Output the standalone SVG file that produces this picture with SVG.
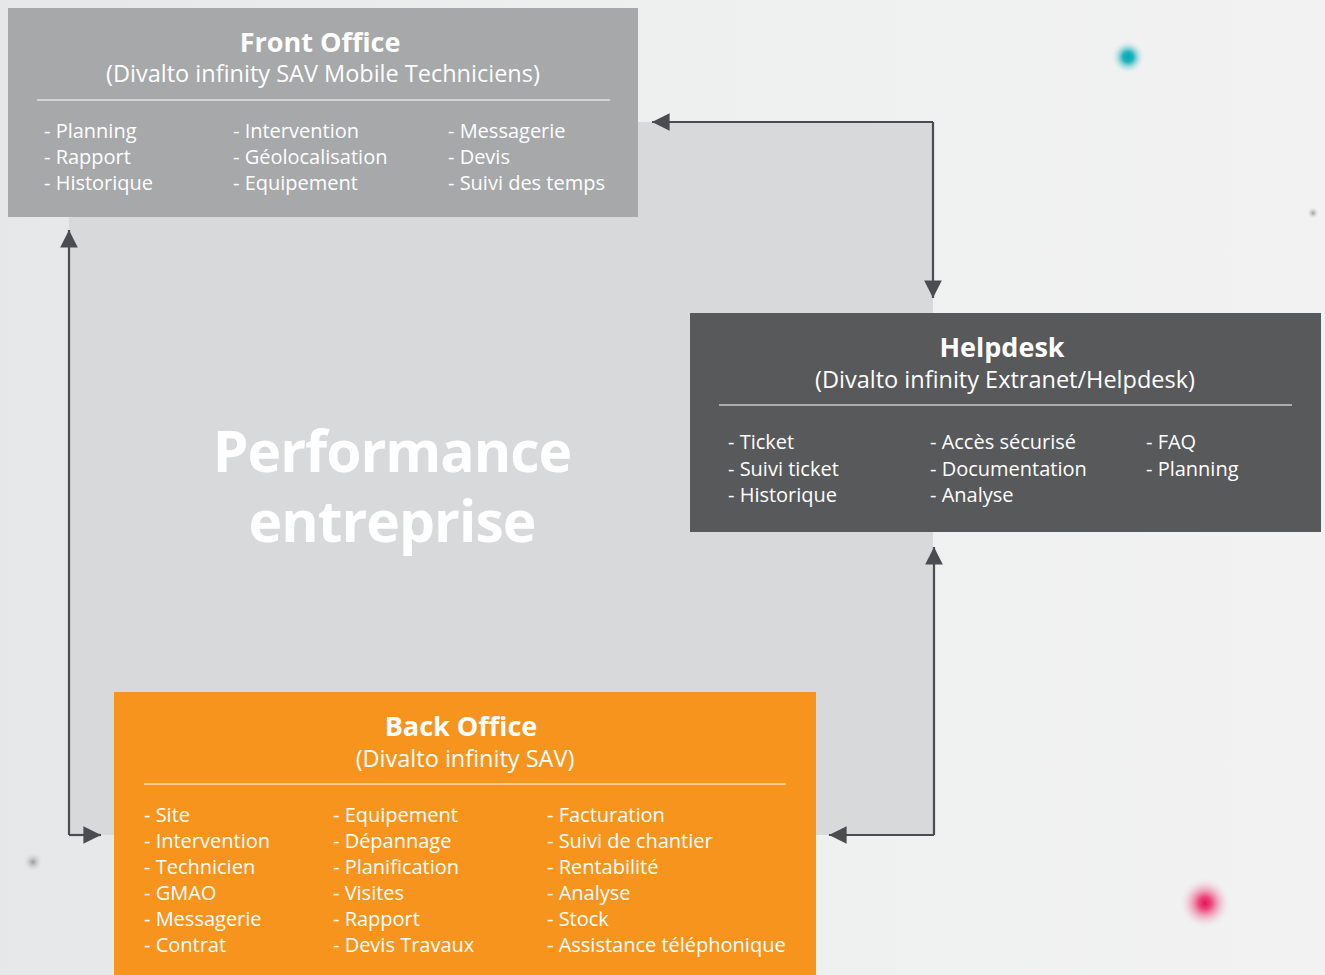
<svg xmlns="http://www.w3.org/2000/svg" width="1325" height="975" viewBox="0 0 1325 975">
<style>
.t{font-family:"Open Sans","Noto Sans","Liberation Sans",sans-serif;fill:#ffffff}
.title{font-size:27px;font-weight:700;text-anchor:middle}
.sub{font-size:23.5px;text-anchor:middle}
.item{font-size:20px}
.big{font-size:57px;font-weight:700;text-anchor:middle;letter-spacing:-1px}
.div{stroke:#ffffff;stroke-width:1.2}
.conn{fill:none;stroke:#4a4c4f;stroke-width:2.2}
</style>
<defs>
<linearGradient id="bg" x1="0" y1="0" x2="1" y2="0">
<stop offset="0" stop-color="#e6e7e8"/>
<stop offset="0.5" stop-color="#eeefef"/>
<stop offset="1" stop-color="#f2f2f2"/>
</linearGradient>
<marker id="ah" viewBox="0 0 10 10" refX="10" refY="5" markerWidth="8" markerHeight="9" markerUnits="strokeWidth" orient="auto">
<path d="M0,0 L10,5 L0,10 Z" fill="#4a4c4f"/>
</marker>
<radialGradient id="teal"><stop offset="0" stop-color="#00a9b5"/><stop offset="0.3" stop-color="#22b3bd"/><stop offset="1" stop-color="#f2f2f2" stop-opacity="0"/></radialGradient>
<radialGradient id="pink"><stop offset="0" stop-color="#e4135a"/><stop offset="0.25" stop-color="#ec4a7d"/><stop offset="1" stop-color="#f2f2f2" stop-opacity="0"/></radialGradient>
<radialGradient id="grey"><stop offset="0" stop-color="#9a9b9d"/><stop offset="1" stop-color="#e8e9ea" stop-opacity="0"/></radialGradient>
</defs>
<rect x="0" y="0" width="1325" height="975" fill="url(#bg)"/>
<circle cx="1128" cy="57" r="17" fill="url(#teal)"/>
<circle cx="1205" cy="903" r="26" fill="url(#pink)"/>
<circle cx="1313" cy="213" r="6" fill="url(#grey)"/>
<circle cx="33" cy="862" r="10" fill="url(#grey)"/>
<rect id="performance-bg" x="69" y="122" width="864" height="713" fill="#d7d9da"/>
<g id="performance">
<text class="t big"><tspan x="392" y="472">Performance</tspan><tspan x="392" y="542">entreprise</tspan></text>
</g>
<g id="connectors">
<path class="conn" d="M933,122 L652,122" marker-end="url(#ah)"/>
<path class="conn" d="M933,122 L933,298"  marker-end="url(#ah)"/>
<path class="conn" d="M69,835 L69,230" marker-end="url(#ah)"/>
<path class="conn" d="M69,835 L101,835" marker-end="url(#ah)"/>
<path class="conn" d="M934,835 L934,547" marker-end="url(#ah)"/>
<path class="conn" d="M934,835 L829,835" marker-end="url(#ah)"/>
</g>
<g id="front-office">
<rect x="8" y="8" width="630" height="209" fill="#a6a8aa"/>
<text class="t title" x="320" y="52">Front Office</text>
<text class="t sub" x="323" y="82">(Divalto infinity SAV Mobile Techniciens)</text>
<line class="div" x1="37" y1="100" x2="610" y2="100"/>
<text class="t item" x="44" y="138">- Planning</text>
<text class="t item" x="44" y="164">- Rapport</text>
<text class="t item" x="44" y="190">- Historique</text>
<text class="t item" x="233" y="138">- Intervention</text>
<text class="t item" x="233" y="164">- Géolocalisation</text>
<text class="t item" x="233" y="190">- Equipement</text>
<text class="t item" x="448" y="138">- Messagerie</text>
<text class="t item" x="448" y="164">- Devis</text>
<text class="t item" x="448" y="190">- Suivi des temps</text>
</g>
<g id="helpdesk">
<rect x="690" y="313" width="631" height="219" fill="#58595b"/>
<text class="t title" x="1002" y="357">Helpdesk</text>
<text class="t sub" x="1005" y="388">(Divalto infinity Extranet/Helpdesk)</text>
<line class="div" x1="719" y1="405" x2="1292" y2="405"/>
<text class="t item" x="728" y="449">- Ticket</text>
<text class="t item" x="728" y="476">- Suivi ticket</text>
<text class="t item" x="728" y="502">- Historique</text>
<text class="t item" x="930" y="449">- Accès sécurisé</text>
<text class="t item" x="930" y="476">- Documentation</text>
<text class="t item" x="930" y="502">- Analyse</text>
<text class="t item" x="1146" y="449">- FAQ</text>
<text class="t item" x="1146" y="476">- Planning</text>
</g>
<g id="back-office">
<rect x="114" y="692" width="702" height="283" fill="#f7941e"/>
<text class="t title" x="461" y="736">Back Office</text>
<text class="t sub" x="465" y="767">(Divalto infinity SAV)</text>
<line class="div" x1="144" y1="784" x2="786" y2="784"/>
<text class="t item" x="144" y="822">- Site</text>
<text class="t item" x="144" y="848">- Intervention</text>
<text class="t item" x="144" y="874">- Technicien</text>
<text class="t item" x="144" y="900">- GMAO</text>
<text class="t item" x="144" y="926">- Messagerie</text>
<text class="t item" x="144" y="952">- Contrat</text>
<text class="t item" x="333" y="822">- Equipement</text>
<text class="t item" x="333" y="848">- Dépannage</text>
<text class="t item" x="333" y="874">- Planification</text>
<text class="t item" x="333" y="900">- Visites</text>
<text class="t item" x="333" y="926">- Rapport</text>
<text class="t item" x="333" y="952">- Devis Travaux</text>
<text class="t item" x="547" y="822">- Facturation</text>
<text class="t item" x="547" y="848">- Suivi de chantier</text>
<text class="t item" x="547" y="874">- Rentabilité</text>
<text class="t item" x="547" y="900">- Analyse</text>
<text class="t item" x="547" y="926">- Stock</text>
<text class="t item" x="547" y="952">- Assistance téléphonique</text>
</g>
</svg>
